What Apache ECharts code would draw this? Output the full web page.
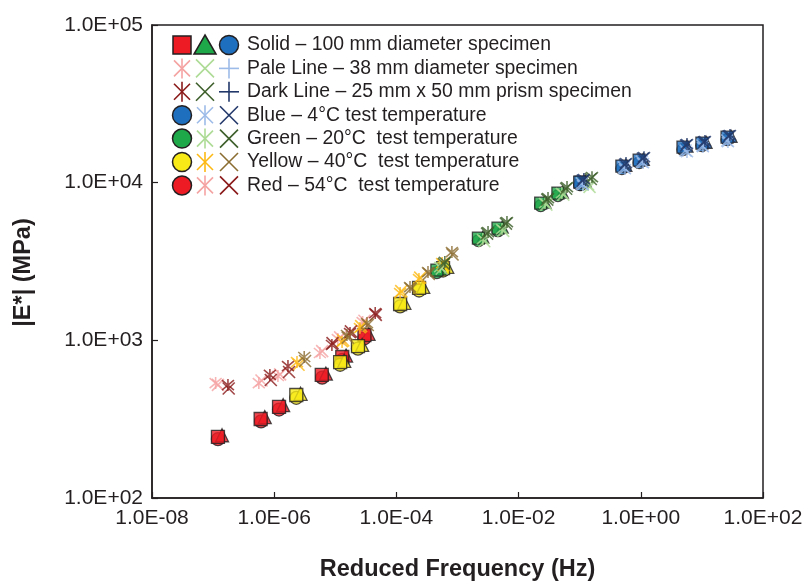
<!DOCTYPE html>
<html>
<head>
<meta charset="utf-8">
<script src="https://cdn.jsdelivr.net/npm/echarts@6/dist/echarts.min.js"></script>
<style>
  html, body { margin: 0; padding: 0; background: #fff; }
  #chart { width: 809px; height: 581px; }
</style>
</head>
<body>
<div id="chart"></div>
<script>
// reduced frequency (Hz), |E*| (MPa)
// 54 C
const redSquare = [[1.2e-7, 244], [6.0e-7, 317], [1.2e-6, 378], [6.0e-6, 603], [1.3e-5, 784], [3.0e-5, 1080]]
const redTriangle = [[1.4e-7, 250], [7.0e-7, 326], [1.4e-6, 388], [7.0e-6, 615], [1.5e-5, 800], [3.5e-5, 1100]]
const redCircle = [[1.2e-7, 236], [6.1e-7, 306], [1.2e-6, 364], [6.1e-6, 580], [1.3e-5, 752], [3.0e-5, 1030]]
const redPaleStar = [[1.1e-7, 536], [5.6e-7, 536], [1.15e-6, 594], [5.6e-6, 831], [1.1e-5, 1019], [2.8e-5, 1306]]
const redPaleCross = [[1.2e-7, 522], [6.2e-7, 556], [1.25e-6, 608], [6.1e-6, 855], [1.2e-5, 1045], [3.0e-5, 1330]]
const redDarkStar = [[1.75e-7, 520], [8.5e-7, 603], [1.68e-6, 687], [8.8e-6, 934], [1.74e-5, 1112], [4.5e-5, 1490]]
const redDarkCross = [[1.8e-7, 495], [8.8e-7, 560], [1.75e-6, 630], [9.0e-6, 960], [1.8e-5, 1140], [4.6e-5, 1450]]
// 40 C
const yellowSquare = [[2.3e-6, 450], [1.2e-5, 728], [2.35e-5, 920], [1.15e-4, 1700], [2.35e-4, 2150], [5.8e-4, 2870]]
const yellowTriangle = [[2.7e-6, 458], [1.4e-5, 740], [2.75e-5, 935], [1.35e-4, 1730], [2.75e-4, 2180], [6.8e-4, 2920]]
const yellowCircle = [[2.3e-6, 432], [1.2e-5, 700], [2.35e-5, 885], [1.15e-4, 1640], [2.35e-4, 2070], [5.8e-4, 2770]]
const yellowPaleStar = [[2.36e-6, 728], [1.29e-5, 975], [2.53e-5, 1197], [1.15e-4, 1995], [2.34e-4, 2447], [5.6e-4, 3092]]
const yellowPaleCross = [[2.5e-6, 700], [1.35e-5, 1000], [2.65e-5, 1230], [1.2e-4, 2050], [2.45e-4, 2500], [5.9e-4, 3000]]
const yellowDarkStar = [[3.1e-6, 784], [1.55e-5, 1081], [3.3e-5, 1288], [1.67e-4, 2178], [3.29e-4, 2710], [8.1e-4, 3631]]
const yellowDarkCross = [[3.2e-6, 740], [1.6e-5, 1040], [3.4e-5, 1250], [1.72e-4, 2120], [3.4e-4, 2640], [8.3e-4, 3500]]
// 20 C
const greenSquare = [[4.6e-4, 2790], [2.2e-3, 4450], [4.6e-3, 5150], [2.3e-2, 7420], [4.4e-2, 8590], [0.105, 10090]]
const greenTriangle = [[5.4e-4, 2830], [2.6e-3, 4510], [5.4e-3, 5220], [2.7e-2, 7520], [5.2e-2, 8700], [0.123, 10220]]
const greenCircle = [[4.6e-4, 2690], [2.2e-3, 4290], [4.6e-3, 4960], [2.3e-2, 7150], [4.4e-2, 8280], [0.105, 9720]]
const greenPaleStar = [[5.2e-4, 2916], [2.6e-3, 4389], [5.35e-3, 5080], [2.7e-2, 7425], [5.1e-2, 8590], [0.137, 9660]]
const greenPaleCross = [[5.5e-4, 2850], [2.75e-3, 4250], [5.6e-3, 4950], [2.85e-2, 7250], [5.4e-2, 8400], [0.145, 9400]]
const greenDarkStar = [[6.2e-4, 3140], [3.16e-3, 4862], [6.45e-3, 5623], [3.03e-2, 7987], [6.2e-2, 9376], [0.159, 10840]]
const greenDarkCross = [[6.0e-4, 3050], [3.05e-3, 4750], [6.2e-3, 5500], [2.95e-2, 7800], [6.0e-2, 9150], [0.152, 10550]]
// 4 C
const blueSquare = [[0.1, 10090], [0.49, 12740], [0.94, 13900], [4.9, 16820], [10, 17830], [25.8, 19450]]
const blueTriangle = [[0.117, 10220], [0.57, 12900], [1.1, 14080], [5.7, 17030], [11.7, 18050], [30, 19700]]
const blueCircle = [[0.1, 9720], [0.49, 12280], [0.94, 13400], [4.9, 16210], [10, 17180], [25.8, 18740]]
const bluePaleStar = [[0.113, 9660], [0.551, 12190], [1.09, 13310], [5.7, 15630], [10.4, 16820], [26.7, 18090]]
const bluePaleCross = [[0.108, 9900], [0.53, 12500], [1.04, 13600], [5.4, 16000], [10.2, 17200], [26, 18500]]
const blueDarkStar = [[0.117, 10540], [0.573, 13310], [1.13, 14520], [5.7, 17570], [11.2, 18370], [28.8, 20040]]
const blueDarkCross = [[0.112, 10300], [0.55, 13000], [1.08, 14200], [5.5, 17200], [10.8, 18000], [27.5, 19700]]

const legendRows = [
  { icons: [['rect', '#ed1c24'], ['tri', '#1fa84a'], ['circle', '#1f6fbf']], text: 'Solid – 100 mm diameter specimen' },
  { icons: [['star', '#f5a3a3'], ['cross', '#addb95'], ['plus', '#9dbbe8']], text: 'Pale Line – 38 mm diameter specimen' },
  { icons: [['star', '#8b1a1a'], ['cross', '#3d5f2a'], ['plus', '#22386a']], text: 'Dark Line – 25 mm x 50 mm prism specimen' },
  { icons: [['circle', '#1f6fbf'], ['star', '#9dbbe8'], ['cross', '#22386a']], text: 'Blue – 4°C test temperature' },
  { icons: [['circle', '#1fa84a'], ['star', '#addb95'], ['cross', '#3d5f2a']], text: 'Green – 20°C  test temperature' },
  { icons: [['circle', '#f7ea16'], ['star', '#fdb913'], ['cross', '#8c6d31']], text: 'Yellow – 40°C  test temperature' },
  { icons: [['circle', '#ed1c24'], ['star', '#f5a3a3'], ['cross', '#8b1a1a']], text: 'Red – 54°C  test temperature' }
]

const INK = '#231f20'
const STAR = 'path://M0,1L10,11M10,1L0,11M5,0L5,12'
const CROSS = 'path://M0,0L10,10M10,0L0,10'

function solid(data, symbol, color, size) {
  return {
    type: 'scatter', data, symbol, symbolSize: size,
    itemStyle: { color, borderColor: INK, borderWidth: 1.3 }
  }
}

function lined(data, path, color) {
  return {
    type: 'scatter', data, symbol: path, symbolSize: 12,
    itemStyle: { color: 'rgba(0,0,0,0)', borderColor: color, borderWidth: 1.6 }
  }
}

function legendIcon(kind, cx, cy, color) {
  const ln = (x1, y1, x2, y2) => ({
    type: 'line', shape: { x1, y1, x2, y2 }, style: { stroke: color, lineWidth: 1.6 }
  })
  const filled = { fill: color, stroke: INK, lineWidth: 1.5 }
  if (kind === 'rect') return [{ type: 'rect', shape: { x: cx - 9, y: cy - 9, width: 18, height: 18 }, style: filled }]
  if (kind === 'tri') return [{ type: 'polygon', shape: { points: [[cx, cy - 10], [cx + 11, cy + 9], [cx - 11, cy + 9]] }, style: filled }]
  if (kind === 'circle') return [{ type: 'circle', shape: { cx, cy, r: 9.5 }, style: filled }]
  if (kind === 'star') return [ln(cx - 8, cy - 8, cx + 8, cy + 8), ln(cx + 8, cy - 8, cx - 8, cy + 8), ln(cx, cy - 10, cx, cy + 10)]
  if (kind === 'cross') return [ln(cx - 9, cy - 9, cx + 9, cy + 9), ln(cx + 9, cy - 9, cx - 9, cy + 9)]
  return [ln(cx, cy - 10, cx, cy + 10), ln(cx - 10, cy, cx + 10, cy)]
}

const graphics = []
legendRows.forEach((row, i) => {
  const cy = 45 + i * 23.4
  row.icons.forEach(([kind, color], j) => {
    legendIcon(kind, [182, 205, 229][j], cy, color).forEach(el => graphics.push(el))
  })
  graphics.push({
    type: 'text', x: 247, y: cy,
    style: { text: row.text, font: '19.4px "Liberation Sans", Arial, sans-serif', fill: INK, verticalAlign: 'middle' }
  })
})

function sci(v) {
  const e = Math.round(Math.log10(v))
  const s = e < 0 ? '-' : '+'
  const a = Math.abs(e)
  return '1.0E' + s + (a < 10 ? '0' + a : a)
}

const chart = echarts.init(document.getElementById('chart'), null, { renderer: 'canvas' })

chart.setOption({
  animation: false,
  backgroundColor: '#fff',
  textStyle: { fontFamily: '"Liberation Sans", Arial, sans-serif', color: INK },
  grid: {
    left: 152, right: 46, top: 25, bottom: 83,
    show: true, borderColor: INK, borderWidth: 1.5,
    outerBoundsMode: 'none'
  },
  xAxis: {
    type: 'log', logBase: 10, min: 1e-8, max: 1e2, interval: 2,
    name: 'Reduced Frequency (Hz)', nameLocation: 'middle', nameGap: 60,
    nameTextStyle: { fontSize: 23.5, fontWeight: 'bold', color: INK },
    axisLine: { lineStyle: { color: INK, width: 1.5 } },
    axisTick: { inside: true, length: 6, lineStyle: { color: INK, width: 1.2 } },
    minorTick: { show: false },
    splitLine: { show: false },
    axisLabel: { fontSize: 21, color: INK, margin: 10, formatter: sci }
  },
  yAxis: {
    type: 'log', logBase: 10, min: 100, max: 1e5, interval: 1,
    name: '|E*| (MPa)', nameLocation: 'middle', nameGap: 116,
    nameTextStyle: { fontSize: 23.5, fontWeight: 'bold', color: INK, padding: [0, 22, 0, 0] },
    axisLine: { lineStyle: { color: INK, width: 1.5 } },
    axisTick: { inside: true, length: 6, lineStyle: { color: INK, width: 1.2 } },
    splitLine: { show: false },
    axisLabel: { fontSize: 21, color: INK, margin: 9, formatter: sci }
  },
  graphic: graphics,
  series: [
    solid(redCircle, 'circle', '#ed1c24', 13), solid(redTriangle, 'triangle', '#ed1c24', 13), solid(redSquare, 'rect', '#ed1c24', 13),
    solid(yellowCircle, 'circle', '#f7ea16', 13), solid(yellowTriangle, 'triangle', '#f7ea16', 13), solid(yellowSquare, 'rect', '#f7ea16', 13),
    solid(greenCircle, 'circle', '#1fa84a', 12), solid(greenTriangle, 'triangle', '#1fa84a', 12), solid(greenSquare, 'rect', '#1fa84a', 12),
    solid(blueCircle, 'circle', '#1f6fbf', 12), solid(blueTriangle, 'triangle', '#1f6fbf', 12), solid(blueSquare, 'rect', '#1f6fbf', 12),
    lined(redPaleStar, STAR, '#f5a3a3'), lined(redPaleCross, CROSS, '#f5a3a3'),
    lined(yellowPaleStar, STAR, '#fdb913'), lined(yellowPaleCross, CROSS, '#fdb913'),
    lined(greenPaleStar, STAR, '#addb95'), lined(greenPaleCross, CROSS, '#addb95'),
    lined(bluePaleStar, STAR, '#9dbbe8'), lined(bluePaleCross, CROSS, '#9dbbe8'),
    lined(redDarkStar, STAR, '#8b1a1a'), lined(redDarkCross, CROSS, '#8b1a1a'),
    lined(yellowDarkStar, STAR, '#8c6d31'), lined(yellowDarkCross, CROSS, '#8c6d31'),
    lined(greenDarkStar, STAR, '#3d5f2a'), lined(greenDarkCross, CROSS, '#3d5f2a'),
    lined(blueDarkStar, STAR, '#22386a'), lined(blueDarkCross, CROSS, '#22386a')
  ]
})

window.addEventListener('resize', () => chart.resize())
</script>
</body>
</html>
